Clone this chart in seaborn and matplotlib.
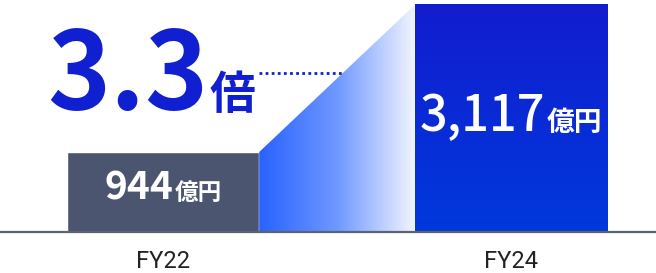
import numpy as np
import matplotlib
matplotlib.use("Agg")
import matplotlib.pyplot as plt
import seaborn as sns
from matplotlib.offsetbox import TextArea, HPacker, AnnotationBbox
from matplotlib.colors import LinearSegmentedColormap
from matplotlib.patches import Polygon

categories = ["FY22", "FY24"]
values = [944, 3117]
value_labels = ["944", "3,117"]
unit_label = "億円"
growth_number = "3.3"
growth_unit = "倍"

sns.set_theme(style="white")
plt.rcParams["font.family"] = ["Noto Sans CJK JP", "DejaVu Sans"]

W, H = 656, 273
fig = plt.figure(figsize=(W / 100, H / 100), dpi=100)
base_px = 41
ax = fig.add_axes([0, base_px / H, 1, (H - base_px) / H])

p = 0.875
fwd = lambda y: np.sign(y) * np.abs(y) ** p
inv = lambda y: np.sign(y) * np.abs(y) ** (1 / p)
ax.set_yscale("function", functions=(fwd, inv))

sns.barplot(x=categories, y=values, hue=categories, palette=["#4b5570", "#1328d4"],
            width=0.552, legend=False, ax=ax, saturation=1)

ax.set_xlim(-0.468, 1.415)
avail = H - base_px
ytop = inv(fwd(values[0]) * avail / 80.0)
ax.set_ylim(0, ytop)

for s in ["top", "right", "left"]:
    ax.spines[s].set_visible(False)
ax.spines["bottom"].set_color("#5c6373")
ax.spines["bottom"].set_linewidth(1.6)
ax.spines["bottom"].set_zorder(5)
ax.set_yticks([])
ax.set_xlabel("")
ax.set_ylabel("")
ax.tick_params(axis="x", length=0, pad=13, labelsize=17, labelcolor="#222222")
for lbl in ax.get_xticklabels():
    lbl.set_fontfamily(["Roboto", "DejaVu Sans"])

patches = ax.patches
bar0, bar1 = patches[0], patches[1]

# vertical gradient on FY24 bar
bar1.set_facecolor("none")
bar1.set_edgecolor("none")
cm_v = LinearSegmentedColormap.from_list("v", ["#0039dc", "#131ccf"])
grad_v = np.linspace(0, 1, 256).reshape(-1, 1)
im = ax.imshow(grad_v, cmap=cm_v, aspect="auto", origin="lower",
               extent=(0, 1, 0, 1), transform=ax.transAxes, zorder=2)
im.set_clip_path(bar1)

# connecting trapezoid with horizontal gradient
x_left = bar0.get_x() + bar0.get_width()
x_right = bar1.get_x()
poly = Polygon([(x_left, 0), (x_left, values[0]), (x_right, values[1]), (x_right, 0)],
               closed=True, facecolor="none", edgecolor="none", transform=ax.transData)
ax.add_patch(poly)
cm_h = LinearSegmentedColormap.from_list("h", ["#2962ff", "#6f98ff", "#f3f6ff"])
grad_h = np.linspace(0, 1, 256).reshape(1, -1)
xl0, xl1 = ax.get_xlim()
ax_x0 = (x_left - xl0) / (xl1 - xl0)
ax_x1 = (x_right - xl0) / (xl1 - xl0)
im2 = ax.imshow(grad_h, cmap=cm_h, aspect="auto", origin="lower",
                extent=(ax_x0, ax_x1, 0, 1), transform=ax.transAxes, zorder=1)
im2.set_clip_path(poly)


def add_box(x, y, parts, color, sep, coords="figure pixels", align=(0.5, 0.5)):
    children = []
    for text, size, weight, fam in parts:
        props = dict(fontsize=size, color=color, fontweight=weight)
        if fam:
            props["family"] = fam
        children.append(TextArea(text, textprops=props))
    box = HPacker(children=children, align="baseline", pad=0, sep=sep)
    ab = AnnotationBbox(box, (x, y), xycoords=coords, frameon=False,
                        box_alignment=align, zorder=6, annotation_clip=False)
    ax.add_artist(ab)


add_box(163, H - 188, [(value_labels[0], 28, "bold", None), (unit_label, 17, "bold", None)], "white", 1)
add_box(511, H - 117, [(value_labels[1], 35, "medium", None), (unit_label, 20, "bold", None)], "white", 1)
add_box(151, H - 78, [(growth_number, 77, "bold", None), (growth_unit, 33, "bold", None)], "#1020d0", 1)

# dotted connector
fig.add_artist(plt.Line2D([259 / W, 342 / W], [(H - 73) / H] * 2, transform=fig.transFigure,
                          color="#1020d0", lw=2, linestyle=(0, (1, 1.2))))

fig.savefig("out.png", dpi=100)
